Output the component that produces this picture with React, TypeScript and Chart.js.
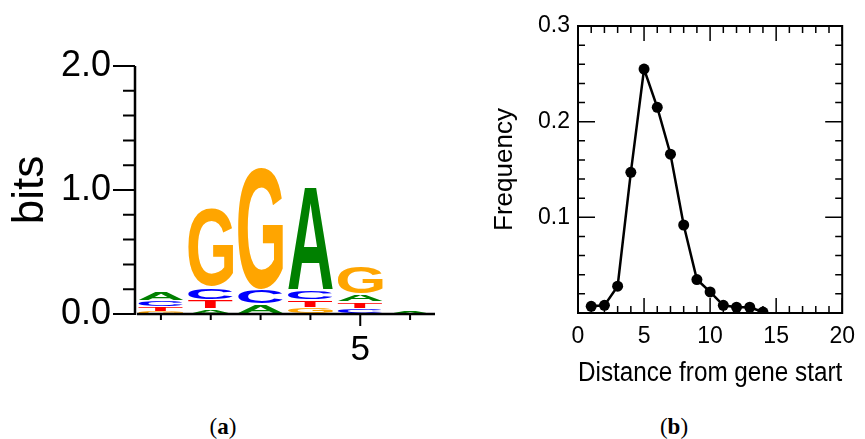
import React, { useEffect, useRef } from 'react';
import { Chart, registerables } from 'chart.js';

Chart.register(...registerables);

// ---------- (a) sequence logo data (bits per letter at each position) ----------
const logoPositions = ['1', '2', '3', '4', '5', '6'];
const heightA = [0.08, 0.04, 0.073, 0.847, 0.06, 0.02];
const heightC = [0.048, 0.105, 0.12, 0.08, 0.045, 0];
const heightG = [0.025, 0.645, 0.99, 0.048, 0.226, 0];
const heightT = [0.032, 0.073, 0.004, 0.065, 0.05, 0];
const logoShownTick = '5';
const logoYMin = 0;
const logoYMax = 2;
const logoMinorStep = 0.2;

// ---------- (b) distance distribution ----------
const distance = [1, 2, 3, 4, 5, 6, 7, 8, 9, 10, 11, 12, 13, 14];
const frequency = [0.007, 0.008, 0.028, 0.147, 0.255, 0.215, 0.166, 0.092, 0.035, 0.022, 0.008, 0.006, 0.006, 0.001];
const distXMin = 0;
const distXMax = 20;
const distYMin = 0;
const distYMax = 0.3;

const letterColors: Record<string, string> = {
  A: '#008000',
  C: '#0000ff',
  G: '#ffa500',
  T: '#ff0000',
};

const SANS = '"Liberation Sans", Arial, Helvetica, sans-serif';

function buildLogoDatasets() {
  const table: Record<string, number[]> = { A: heightA, C: heightC, G: heightG, T: heightT };
  const letters = Object.keys(table);
  const ranks = letters.map(() => ({ data: [] as number[], letters: [] as string[] }));
  logoPositions.forEach((_, i) => {
    const items = letters
      .map((l) => ({ l, h: table[l][i] }))
      .sort((a, b) => a.h - b.h);
    items.forEach((it, r) => {
      ranks[r].data.push(it.h);
      ranks[r].letters.push(it.l);
    });
  });
  return ranks.map((r, idx) => ({
    label: 'rank' + idx,
    data: r.data,
    letters: r.letters,
    backgroundColor: 'rgba(0,0,0,0)',
    borderWidth: 0,
    barPercentage: 0.9,
    categoryPercentage: 1,
    stack: 'logo',
  }));
}

const logoLettersPlugin = {
  id: 'logoLetters',
  afterDatasetsDraw(chart: any) {
    const ctx = chart.ctx as CanvasRenderingContext2D;
    chart.data.datasets.forEach((ds: any, di: number) => {
      const meta = chart.getDatasetMeta(di);
      meta.data.forEach((el: any, j: number) => {
        const { x, y, base, width } = el.getProps(['x', 'y', 'base', 'width'], true);
        const top = Math.min(y, base);
        const bottom = Math.max(y, base);
        const h = bottom - top;
        if (h < 0.6) return;
        const letter = ds.letters[j];
        ctx.save();
        ctx.font = `bold 100px ${SANS}`;
        ctx.textAlign = 'left';
        ctx.textBaseline = 'alphabetic';
        const m = ctx.measureText(letter);
        const inkW = m.actualBoundingBoxLeft + m.actualBoundingBoxRight;
        const inkH = m.actualBoundingBoxAscent + m.actualBoundingBoxDescent;
        const gap = Math.min(2, h * 0.2);
        ctx.translate(x - width / 2, bottom - gap / 2);
        ctx.scale(width / inkW, (h - gap) / inkH);
        ctx.fillStyle = letterColors[letter];
        ctx.fillText(letter, m.actualBoundingBoxLeft, -m.actualBoundingBoxDescent);
        ctx.restore();
      });
    });
  },
};

const logoAxesPlugin = {
  id: 'logoAxes',
  afterDraw(chart: any) {
    const ctx = chart.ctx as CanvasRenderingContext2D;
    const { left, right } = chart.chartArea;
    const xs = chart.scales.x;
    const ys = chart.scales.y;
    const ax = left - 1;
    const y0 = ys.getPixelForValue(logoYMin);
    ctx.save();
    ctx.strokeStyle = '#000';
    ctx.lineWidth = 2.5;
    ctx.beginPath();
    ctx.moveTo(ax, ys.getPixelForValue(logoYMax));
    ctx.lineTo(ax, y0 + 1);
    ctx.moveTo(left + 1, y0);
    ctx.lineTo(right, y0);
    ctx.stroke();
    ctx.lineWidth = 2;
    ctx.beginPath();
    const n = Math.round((logoYMax - logoYMin) / logoMinorStep);
    for (let k = 0; k <= n; k++) {
      const v = logoYMin + k * logoMinorStep;
      const major = Math.abs(v - Math.round(v)) < 1e-6;
      const py = ys.getPixelForValue(v);
      ctx.moveTo(ax - (major ? 22 : 12), py);
      ctx.lineTo(ax, py);
    }
    logoPositions.forEach((p, i) => {
      const px = xs.getPixelForValue(i);
      ctx.moveTo(px, y0);
      ctx.lineTo(px, y0 + (p === logoShownTick ? 12 : 6));
    });
    ctx.stroke();
    ctx.restore();
  },
};

const frameAxesPlugin = {
  id: 'frameAxes',
  afterDraw(chart: any) {
    const ctx = chart.ctx as CanvasRenderingContext2D;
    const { left, right, top, bottom } = chart.chartArea;
    const xs = chart.scales.x;
    const ys = chart.scales.y;
    ctx.save();
    ctx.strokeStyle = '#000';
    ctx.lineWidth = 1.5;
    ctx.beginPath();
    for (let v = distXMin; v <= distXMax; v += 1) {
      const px = xs.getPixelForValue(v);
      const len = v % 5 === 0 ? 15 : 7;
      ctx.moveTo(px, bottom);
      ctx.lineTo(px, bottom - len);
      ctx.moveTo(px, top);
      ctx.lineTo(px, top + len);
    }
    for (let k = 0; k <= 15; k++) {
      const v = distYMin + k * 0.02;
      const py = ys.getPixelForValue(v);
      const len = k % 5 === 0 ? 17 : 7;
      ctx.moveTo(left, py);
      ctx.lineTo(left + len, py);
      ctx.moveTo(right, py);
      ctx.lineTo(right - len, py);
    }
    ctx.stroke();
    ctx.lineWidth = 2;
    ctx.strokeRect(left, top, right - left, bottom - top);
    ctx.restore();
  },
};

function LogoChart() {
  const ref = useRef<HTMLCanvasElement>(null);
  useEffect(() => {
    const chart = new Chart(ref.current as HTMLCanvasElement, {
      type: 'bar',
      data: { labels: logoPositions, datasets: buildLogoDatasets() as any },
      options: {
        animation: false,
        responsive: false,
        events: [],
        layout: { padding: { top: 66, right: 25, left: 0, bottom: 0 } },
        plugins: { legend: { display: false }, tooltip: { enabled: false } },
        scales: {
          x: {
            stacked: true,
            grid: { display: false, drawTicks: false },
            border: { display: false },
            ticks: {
              autoSkip: false,
              maxRotation: 0,
              padding: 15,
              color: '#000',
              font: { family: SANS, size: 35 },
              callback: (_v: any, i: number) => (logoPositions[i] === logoShownTick ? logoShownTick : ''),
            },
            afterFit: (s: any) => {
              s.height = 86;
            },
          },
          y: {
            stacked: true,
            min: logoYMin,
            max: logoYMax,
            grid: { display: false, drawTicks: false },
            border: { display: false },
            ticks: {
              stepSize: 1,
              padding: 25,
              color: '#000',
              font: { family: SANS, size: 36 },
              callback: (v: any) => Number(v).toFixed(1),
            },
            title: {
              display: true,
              text: 'bits',
              color: '#000',
              font: { family: SANS, size: 44 },
              padding: { top: 4, bottom: 0 },
            },
            afterFit: (s: any) => {
              s.width = 136;
            },
          },
        },
      } as any,
      plugins: [logoLettersPlugin, logoAxesPlugin],
    });
    return () => chart.destroy();
  }, []);
  return <canvas ref={ref} width={460} height={400} style={{ display: 'block' }} />;
}

function DistanceChart() {
  const ref = useRef<HTMLCanvasElement>(null);
  useEffect(() => {
    const chart = new Chart(ref.current as HTMLCanvasElement, {
      type: 'line',
      data: {
        datasets: [
          {
            label: 'Frequency',
            data: distance.map((d, i) => ({ x: d, y: frequency[i] })),
            borderColor: '#000',
            backgroundColor: '#000',
            borderWidth: 2.5,
            pointRadius: 5.5,
            pointBackgroundColor: '#000',
            pointBorderWidth: 0,
            tension: 0,
            clip: 0,
          },
        ],
      },
      options: {
        animation: false,
        responsive: false,
        events: [],
        layout: { padding: { top: 26, right: 13, left: 0, bottom: 0 } },
        plugins: { legend: { display: false }, tooltip: { enabled: false } },
        scales: {
          x: {
            type: 'linear',
            min: distXMin,
            max: distXMax,
            grid: { display: false, drawTicks: false },
            border: { display: false },
            ticks: {
              stepSize: 5,
              padding: 10,
              maxRotation: 0,
              color: '#000',
              font: { family: SANS, size: 23 },
            },
            title: {
              display: true,
              text: 'Distance from gene start',
              color: '#000',
              font: { family: SANS, size: 27 },
              padding: { top: 0, bottom: 10 },
            },
            afterFit: (s: any) => {
              s.height = 87;
            },
          },
          y: {
            min: distYMin,
            max: distYMax,
            grid: { display: false, drawTicks: false },
            border: { display: false },
            ticks: {
              stepSize: 0.1,
              padding: 8,
              color: '#000',
              font: { family: SANS, size: 23 },
              callback: (v: any) => (Number(v) === 0 ? '' : Number(v).toFixed(1)),
            },
            title: {
              display: true,
              text: 'Frequency',
              color: '#000',
              font: { family: SANS, size: 26 },
              padding: { top: 9, bottom: 0 },
            },
            afterFit: (s: any) => {
              s.width = 98;
            },
          },
        },
      } as any,
      plugins: [frameAxesPlugin],
    });
    return () => chart.destroy();
  }, []);
  return <canvas ref={ref} width={385} height={400} style={{ display: 'block' }} />;
}

const captionStyle: React.CSSProperties = {
  position: 'absolute',
  top: 413,
  width: 80,
  textAlign: 'center',
  fontFamily: '"Liberation Serif", "Times New Roman", serif',
  fontSize: 23,
  lineHeight: '28px',
  color: '#000',
};

export default function App() {
  return (
    <div style={{ position: 'absolute', left: 0, top: 0, width: 865, height: 439, background: '#fff', overflow: 'hidden' }}>
      <div style={{ position: 'absolute', left: 0, top: 0 }}>
        <LogoChart />
      </div>
      <div style={{ position: 'absolute', left: 480, top: 0 }}>
        <DistanceChart />
      </div>
      <div style={{ ...captionStyle, left: 223 - 40 }}>
        (<b>a</b>)
      </div>
      <div style={{ ...captionStyle, left: 674 - 40 }}>
        (<b>b</b>)
      </div>
    </div>
  );
}
